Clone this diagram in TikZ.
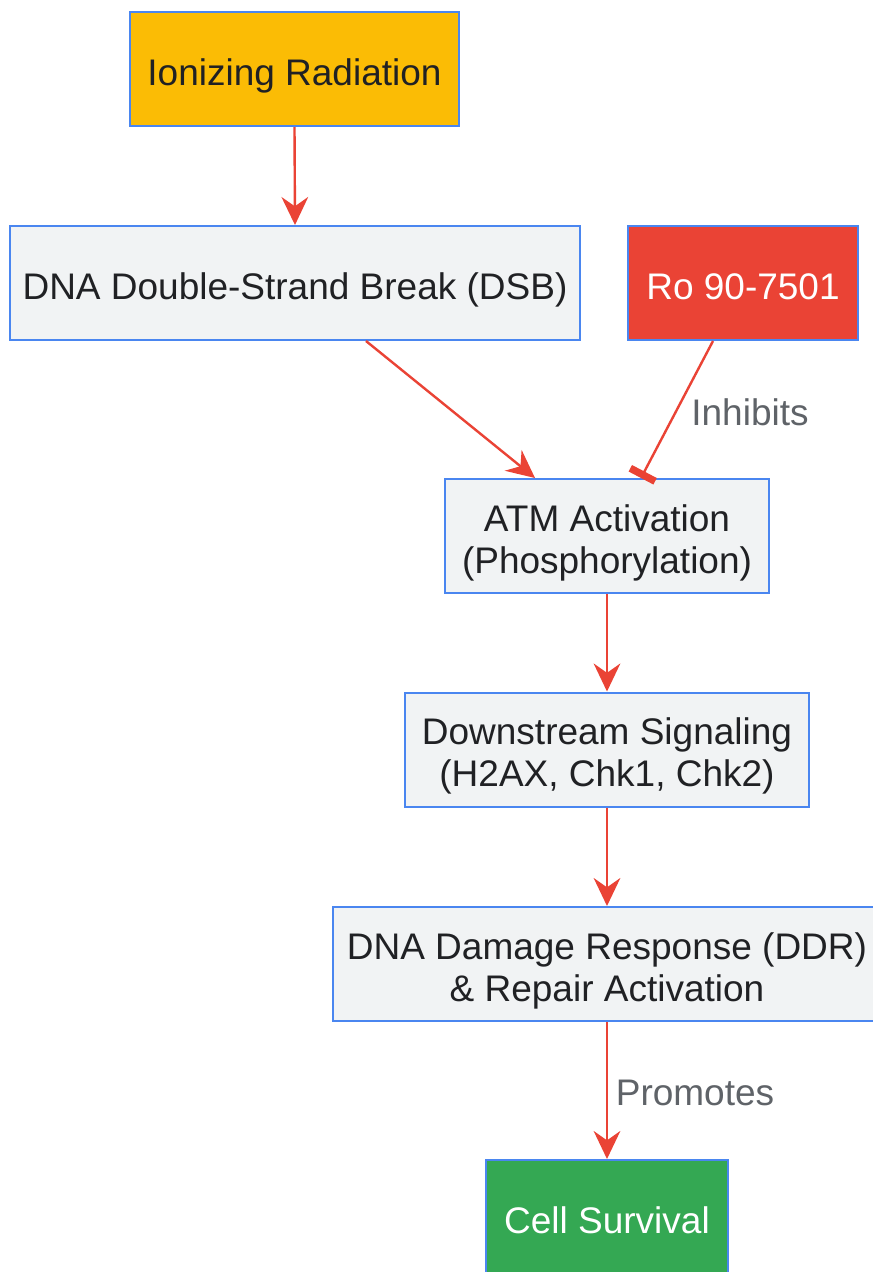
\documentclass[tikz,border=0pt]{standalone}
\usepackage{fontspec}
\setmainfont{Liberation Sans}
\usetikzlibrary{arrows.meta,calc}
\definecolor{bordblue}{HTML}{4A86F0}
\definecolor{boxgray}{HTML}{F1F3F4}
\definecolor{ioyellow}{HTML}{FBBC05}
\definecolor{rored}{HTML}{EA4335}
\definecolor{survgreen}{HTML}{34A853}
\definecolor{labgray}{HTML}{5F6368}
\definecolor{txtdark}{HTML}{202124}
\begin{document}
\begin{tikzpicture}[x=0.75pt,y=-0.75pt,
  box/.style={draw=bordblue,line width=1.5pt,fill=boxgray,text=txtdark,align=center,
    inner sep=0pt,font=\fontsize{27.75pt}{31.5pt}\selectfont},
  oneline/.style={text height=24pt,text depth=0pt},
  twoline/.style={text height=55.5pt,text depth=0pt},
  conn/.style={draw=rored,line width=1.8pt,-{Stealth[length=21pt,width=20pt,inset=7pt]}},
  inhib/.style={draw=rored,line width=1.8pt,-{Bar[width=21pt,line width=5.5pt]}},
  lab/.style={text=labgray,font=\fontsize{27.75pt}{31.5pt}\selectfont,inner sep=0pt}]
\clip (0,0) rectangle (873,1272);
\useasboundingbox (0,0) rectangle (873,1272);
\fill[white] (0,0) rectangle (873,1272);
\node[box,oneline,fill=ioyellow,minimum width=246.75pt,minimum height=85.5pt] (ir) at (294.5,69) {Ionizing Radiation};
\node[box,oneline,minimum width=427.5pt,minimum height=85.5pt] (dsb) at (295,283) {DNA Double-Strand Break (DSB)};
\node[box,oneline,fill=rored,text=white,minimum width=172.5pt,minimum height=85.5pt] (ro) at (743,283) {Ro 90-7501};
\node[box,twoline,minimum width=243pt,minimum height=85.5pt] (atm) at (607,536) {ATM Activation\\(Phosphorylation)};
\node[box,twoline,minimum width=303pt,minimum height=85.5pt] (ds) at (607,749.5) {Downstream Signaling\\(H2AX, Chk1, Chk2)};
\node[box,twoline,minimum width=411pt,minimum height=85.5pt] (ddr) at (607,964) {DNA Damage Response (DDR)\\\& Repair Activation};
\node[box,oneline,fill=survgreen,text=white,minimum width=181.5pt,minimum height=85.5pt] (cs) at (607,1217) {Cell Survival};
\draw[conn] (ir.south) -- (dsb.north);
\draw[conn] ($(dsb.south)+(71,0)$) -- ($(atm.north)+(-72,0)$);
\draw[inhib] ($(ro.south)+(-30,0)$) -- ($(atm.north)+(34,0)$);
\node[lab] (inh) at (750,412) {Inhibits};
\draw[conn] (atm.south) -- (ds.north);
\draw[conn] (ds.south) -- (ddr.north);
\draw[conn] (ddr.south) -- (cs.north);
\node[lab] (pro) at (695,1093) {Promotes};
\end{tikzpicture}
\end{document}
